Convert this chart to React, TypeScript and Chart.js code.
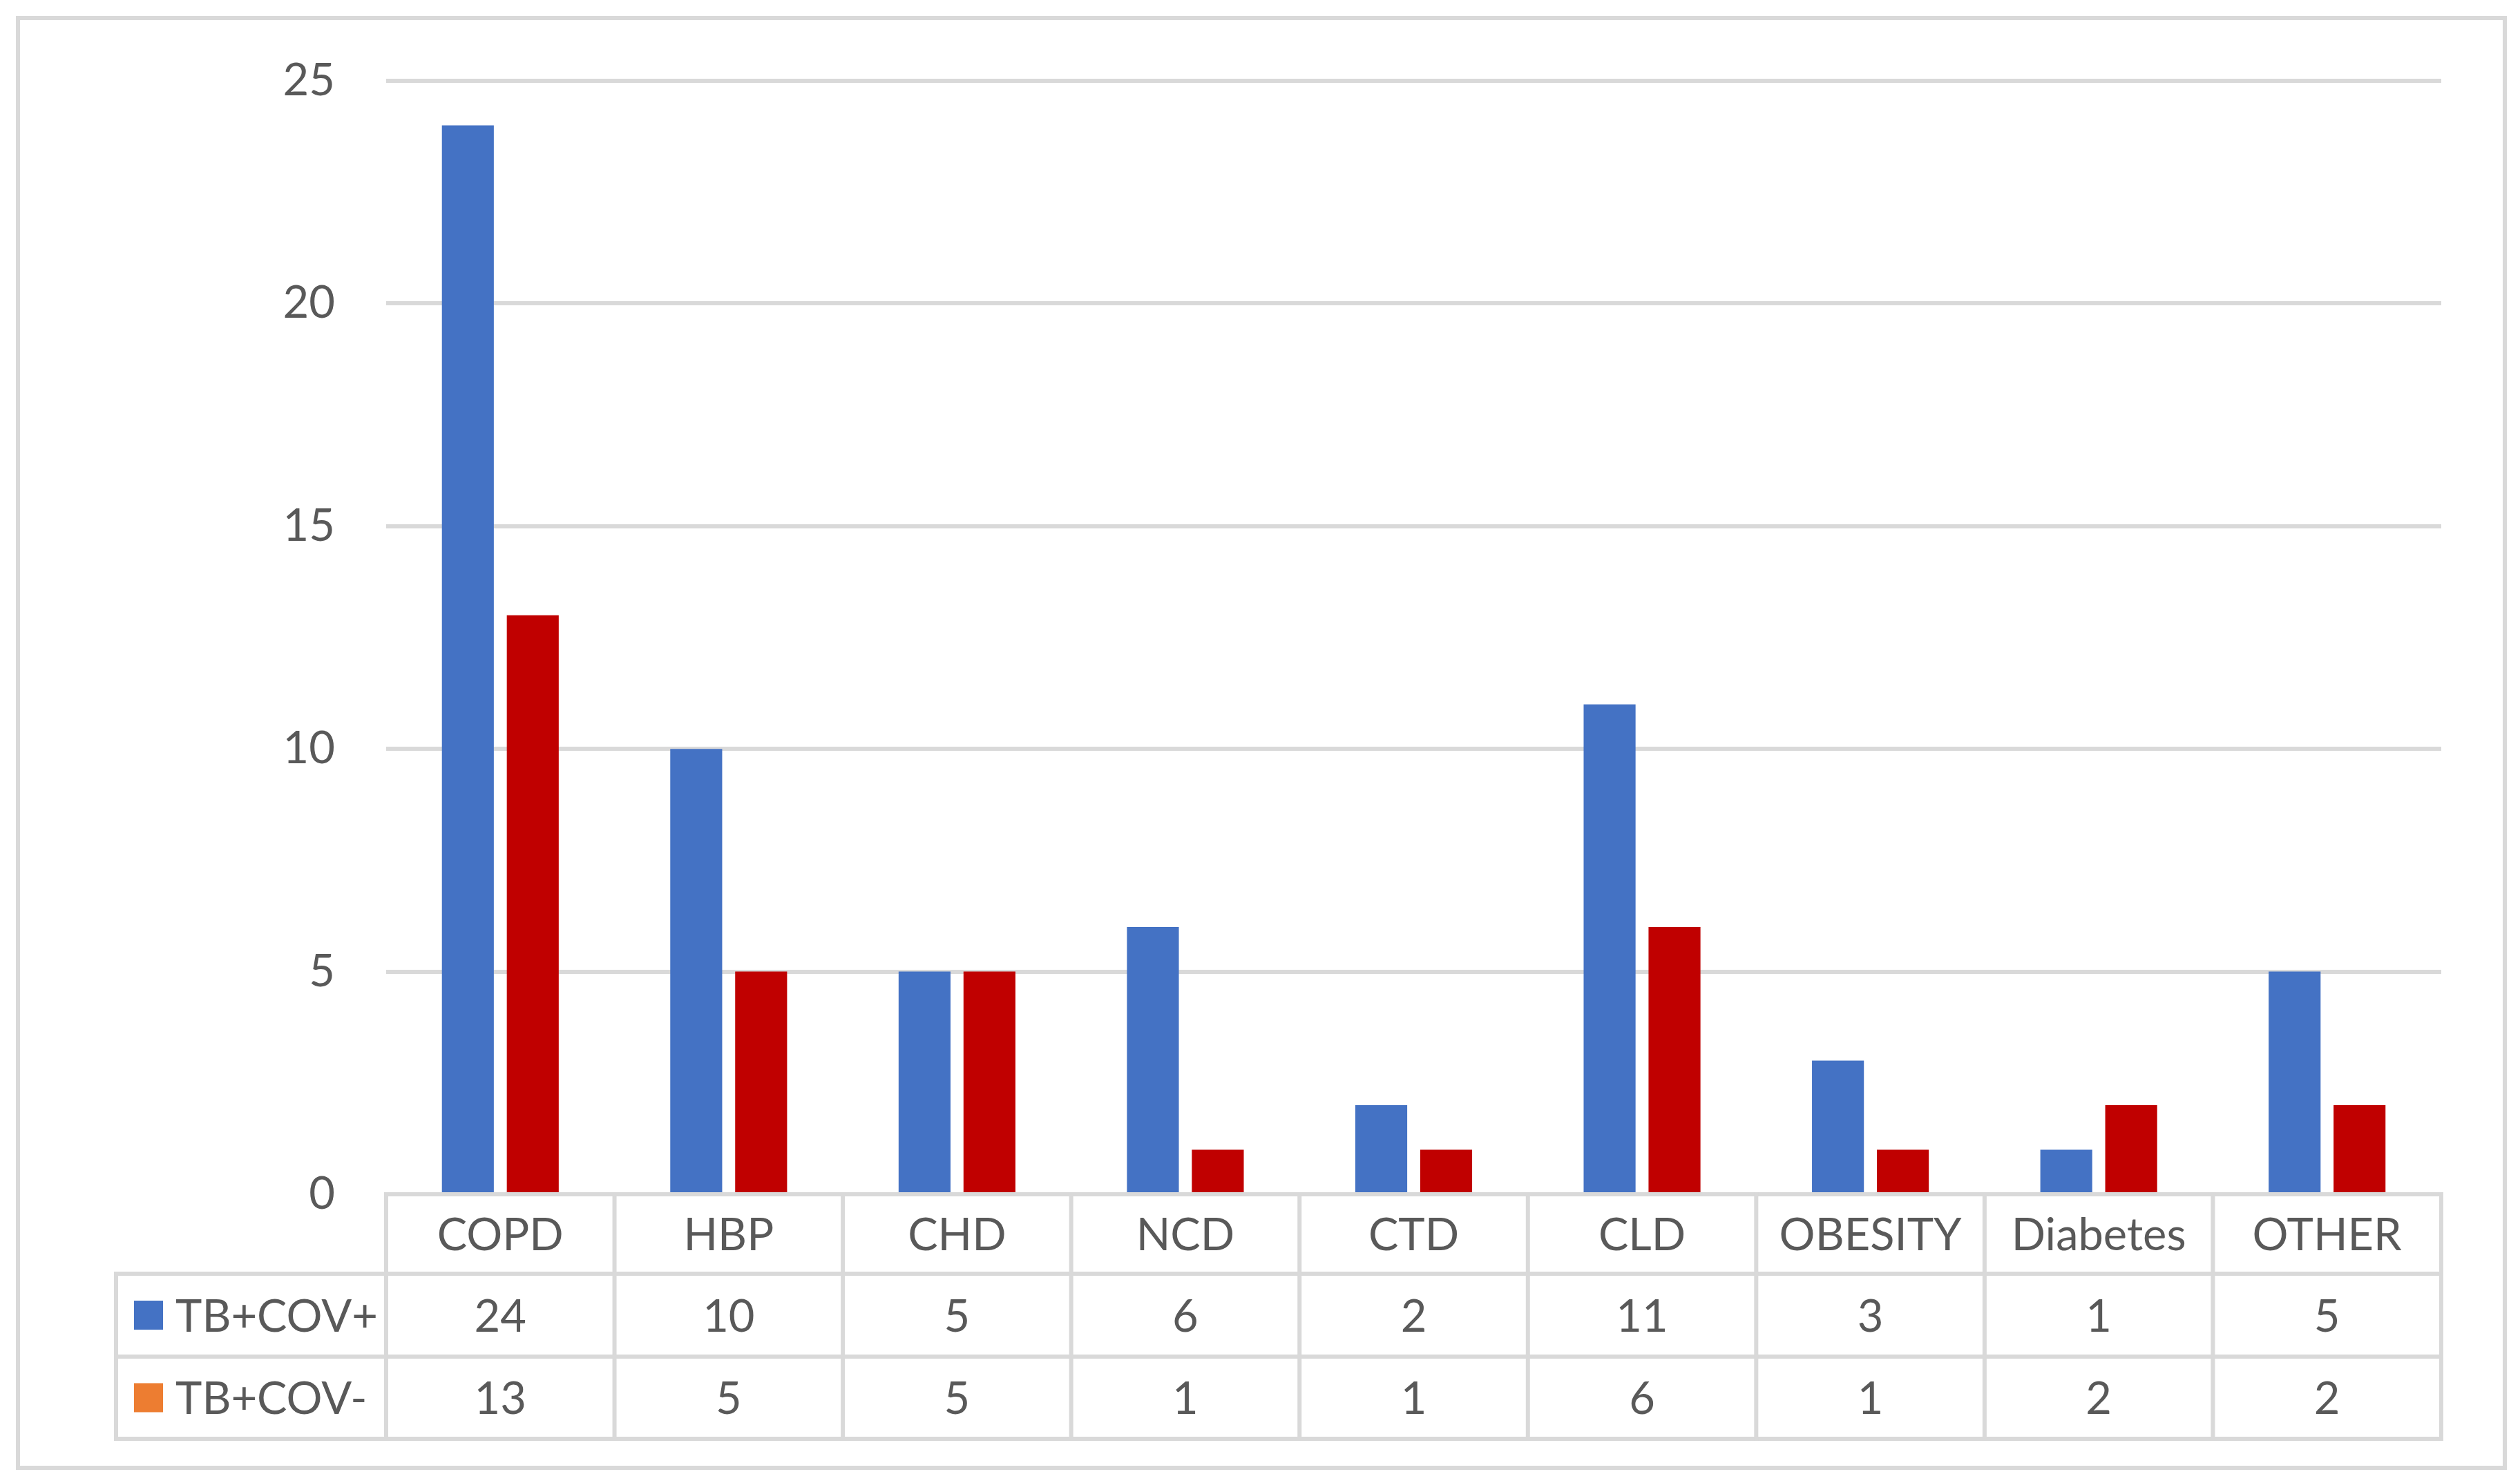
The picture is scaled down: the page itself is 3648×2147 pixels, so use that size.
import React, { useEffect, useRef } from "react";
import { Chart, registerables } from "chart.js";

Chart.register(...registerables);

const categories = ["COPD", "HBP", "CHD", "NCD", "CTD", "CLD", "OBESITY", "Diabetes", "OTHER"];
const seriesNames = ["TB+COV+", "TB+COV-"];
const covPositive = [24, 10, 5, 6, 2, 11, 3, 1, 5];
const covNegative = [13, 5, 5, 1, 1, 6, 1, 2, 2];
const yTickStep = 5;
const yMax = 25;

const barColors = ["#4472C4", "#C00000"];
const legendColors = ["#4472C4", "#ED7D31"];

const W = 3648;
const H = 2147;
const FONT = "Lato, 'Open Sans', sans-serif";
const FONT_SIZE = 65;
const TEXT = "#595959";
const LINE = "#D9D9D9";

const tablePlugin = {
  id: "dataTable",
  afterDraw(chart: any) {
    const { ctx, chartArea, scales } = chart;
    const x = scales.x;
    const left = chartArea.left;
    const right = chartArea.right;
    const top = chartArea.bottom;
    const rows = [top, top + 115, top + 235, top + 354];
    const legendLeft = 168;
    const n = categories.length;
    const series = [covPositive, covNegative];

    ctx.save();
    ctx.strokeStyle = LINE;
    ctx.lineWidth = 6;
    ctx.lineCap = "square";
    const line = (x1: number, y1: number, x2: number, y2: number) => {
      ctx.beginPath();
      ctx.moveTo(x1, y1);
      ctx.lineTo(x2, y2);
      ctx.stroke();
    };
    line(left, rows[0], right, rows[0]);
    for (let r = 1; r < rows.length; r++) line(legendLeft, rows[r], right, rows[r]);
    for (let i = 0; i <= n; i++) {
      const b =
        i === 0 ? left : i === n ? right : (x.getPixelForValue(i - 1) + x.getPixelForValue(i)) / 2;
      line(b, rows[0], b, rows[3]);
    }
    line(legendLeft, rows[1], legendLeft, rows[3]);

    // outer chart border
    ctx.strokeRect(26, 26, 3600, 2099);

    ctx.fillStyle = TEXT;
    ctx.font = `${FONT_SIZE}px ${FONT}`;
    ctx.textAlign = "center";
    ctx.textBaseline = "middle";
    categories.forEach((c, i) => {
      ctx.fillText(c, x.getPixelForValue(i), (rows[0] + rows[1]) / 2 + 3);
    });
    series.forEach((vals, s) => {
      const cy = (rows[s + 1] + rows[s + 2]) / 2 + 3;
      vals.forEach((v, i) => {
        ctx.fillText(String(v), x.getPixelForValue(i), cy);
      });
    });
    ctx.textAlign = "left";
    seriesNames.forEach((name, s) => {
      const cy = (rows[s + 1] + rows[s + 2]) / 2;
      ctx.fillStyle = legendColors[s];
      ctx.fillRect(legendLeft + 26, cy - 21, 42, 42);
      ctx.fillStyle = TEXT;
      ctx.fillText(name, legendLeft + 86, cy + 3);
    });
    ctx.restore();
  },
};

export default function App() {
  const ref = useRef<HTMLCanvasElement | null>(null);
  useEffect(() => {
    if (!ref.current) return;
    const chart = new Chart(ref.current, {
      type: "bar",
      data: {
        labels: categories,
        datasets: [
          {
            label: seriesNames[0],
            data: covPositive,
            backgroundColor: barColors[0],
            categoryPercentage: 0.5685,
            barPercentage: 0.8,
          },
          {
            label: seriesNames[1],
            data: covNegative,
            backgroundColor: barColors[1],
            categoryPercentage: 0.5685,
            barPercentage: 0.8,
          },
        ],
      },
      options: {
        animation: false,
        responsive: false,
        devicePixelRatio: 1,
        layout: { padding: { top: 117, right: 114, bottom: 418, left: 0 } },
        plugins: { legend: { display: false }, tooltip: { enabled: false }, title: { display: false } },
        scales: {
          x: { display: false },
          y: {
            min: 0,
            max: yMax,
            ticks: {
              stepSize: yTickStep,
              color: TEXT,
              font: { family: FONT, size: FONT_SIZE },
              padding: 74,
            },
            grid: { color: LINE, lineWidth: 6, drawTicks: false },
            border: { display: false },
            afterFit(s: any) {
              s.width = 559;
            },
          },
        },
      },
      plugins: [tablePlugin],
    });
    return () => chart.destroy();
  }, []);
  return (
    <div style={{ position: "fixed", left: 0, top: 0, width: W, height: H, background: "#fff" }}>
      <canvas ref={ref} width={W} height={H} style={{ display: "block", width: W, height: H }} />
    </div>
  );
}
